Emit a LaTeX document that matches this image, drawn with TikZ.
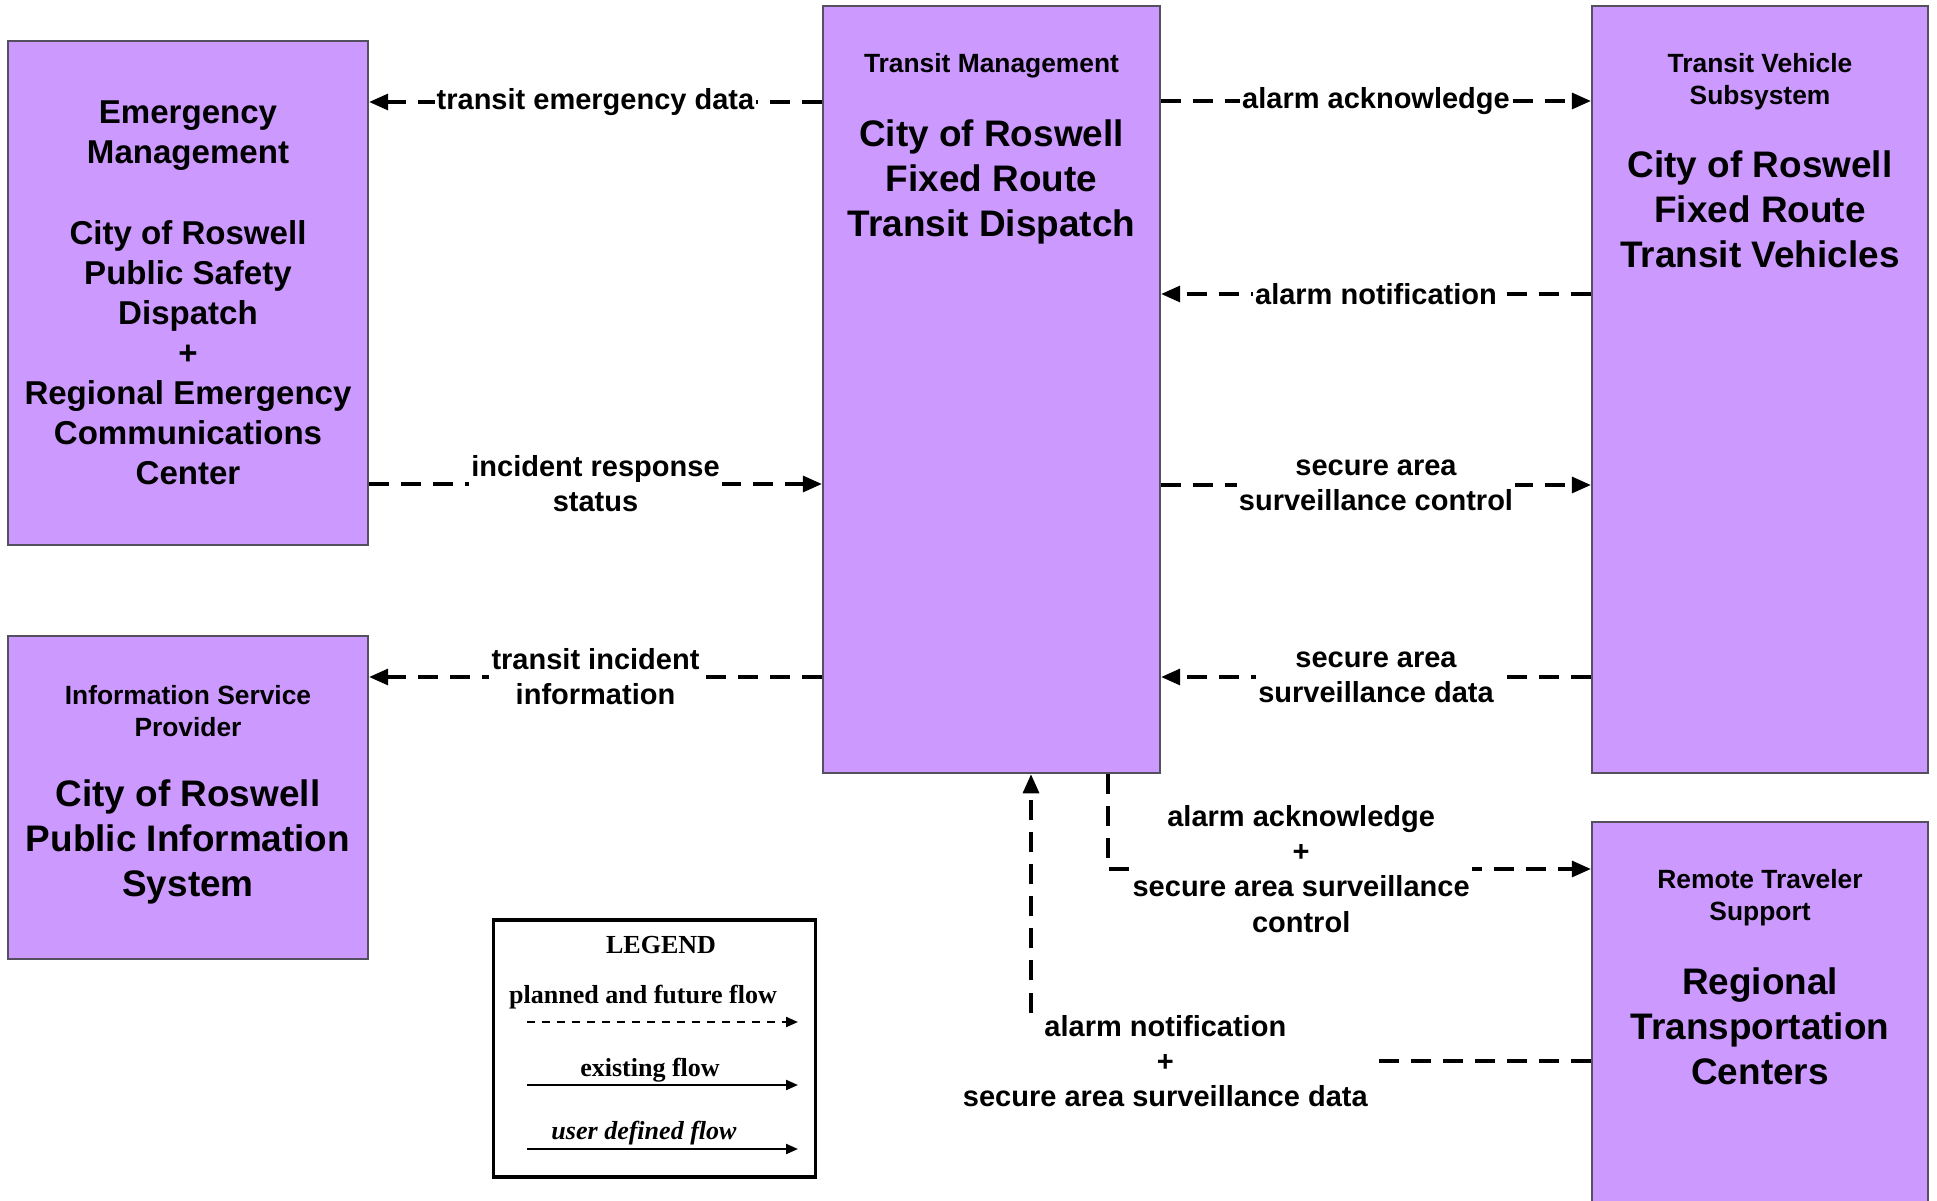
\documentclass[tikz,border=0pt]{standalone}
\usepackage{fontspec}
\setmainfont{Liberation Sans}
\newfontfamily\legendfont{Liberation Serif}
\usepackage{xcolor}
\usetikzlibrary{arrows,arrows.meta,shapes,positioning,calc}

\definecolor{sysfill}{RGB}{204,153,255}
\definecolor{sysline}{RGB}{85,80,95}

\tikzset{
  sysbox/.style={draw=sysline, line width=0.6pt, rectangle, fill=sysfill, inner sep=0pt},
  hdrtext/.style={align=center, inner sep=0pt, font=\fontsize{7.5}{9.1}\selectfont\bfseries},
  nametext/.style={align=center, inner sep=0pt, font=\fontsize{10.5}{12.8}\selectfont\bfseries},
  flowlabel/.style={align=center, fill=white, inner sep=0.6pt, font=\fontsize{8.25}{10}\selectfont\bfseries},
  flow/.style={->, line width=0.9pt, dash pattern=on 0.2cm off 0.12cm},
  legendtext/.style={inner sep=0pt, font=\legendfont\fontsize{7.4}{9}\selectfont\bfseries},
  legendflow/.style={-{Triangle[length=0.12cm,width=0.1cm]}, line width=0.6pt},
}

\begin{document}
\begin{tikzpicture}[x=0.01cm, y=-0.01cm, >={Triangle[length=0.19cm,width=0.16cm]}]
\useasboundingbox (0,0) rectangle (1937,1201);

% Subsystem boxes
\node[sysbox, minimum width=3.60cm, minimum height=5.04cm, align=center, font=\fontsize{9.4}{11.4}\selectfont\bfseries] (em) at (188,293) {Emergency\\Management\\[0.4cm]City of Roswell\\Public Safety\\Dispatch\\+\\Regional Emergency\\Communications\\Center};
\node[sysbox, minimum width=3.60cm, minimum height=3.23cm] (isp) at (188,797.5) {};
\node[sysbox, minimum width=3.37cm, minimum height=7.67cm] (tm) at (991.5,389.5) {};
\node[sysbox, minimum width=3.36cm, minimum height=7.67cm] (tvs) at (1760,389.5) {};
\node[sysbox, minimum width=3.36cm, minimum height=3.90cm] (rts) at (1760,1017) {};

% Box titles
\node[hdrtext] (tmhdr) at (991.5,66) {Transit Management};
\node[nametext] (tmname) at (991.5,182) {City of Roswell\\Fixed Route\\Transit Dispatch};
\node[hdrtext] (tvshdr) at (1760,82) {Transit Vehicle\\Subsystem};
\node[nametext] (tvsname) at (1760,209) {City of Roswell\\Fixed Route\\Transit Vehicles};
\node[hdrtext] (isphdr) at (188,711) {Information Service\\Provider};
\node[nametext] (ispname) at (188,842) {City of Roswell\\Public Information\\System};
\node[hdrtext] (rtshdr) at (1760,898) {Remote Traveler\\Support};
\node[nametext] (rtsname) at (1760,1026) {Regional\\Transportation\\Centers};

% Flows
\draw[flow] (tm.west |- 0,102) -- (em.east |- 0,102) node[flowlabel, midway] {transit emergency data};
\draw[flow] (em.east |- 0,484) -- (tm.west |- 0,484) node[flowlabel, midway] {incident response\\status};
\draw[flow] (tm.west |- 0,677) -- (isp.east |- 0,677) node[flowlabel, midway] {transit incident\\information};
\draw[flow] (tm.east |- 0,101) -- (tvs.west |- 0,101) node[flowlabel, midway] {alarm acknowledge};
\draw[flow] (tvs.west |- 0,294) -- (tm.east |- 0,294) node[flowlabel, midway] {alarm notification};
\draw[flow] (tm.east |- 0,485) -- (tvs.west |- 0,485) node[flowlabel, midway] {secure area\\surveillance control};
\draw[flow] (tvs.west |- 0,677) -- (tm.east |- 0,677) node[flowlabel, midway] {secure area\\surveillance data};
\draw[flow] (tm.south -| 1108,0) |- (rts.west |- 0,869) node[flowlabel, pos=0.7] {alarm acknowledge\\+\\secure area surveillance\\control};
\draw[flow] (rts.west |- 0,1061) -| (tm.south -| 1031,0) node[flowlabel, pos=0.38] {alarm notification\\+\\secure area surveillance data};

% Legend
\node[draw, line width=0.9pt, minimum width=3.21cm, minimum height=2.57cm] (legend) at (654.5,1048.5) {};
\node[legendtext] (lgtitle) at (661,945) {LEGEND};
\node[legendtext] (lgplanned) at (643,997) {planned and future flow};
\coordinate (lgp1) at (527,1022);
\coordinate (lgp2) at (798,1022);
\draw[legendflow, dash pattern=on 0.08cm off 0.07cm] (lgp1) -- (lgp2);
\node[legendtext] (lgexist) at (650,1070) {existing flow};
\coordinate (lge1) at (527,1085);
\coordinate (lge2) at (798,1085);
\draw[legendflow] (lge1) -- (lge2);
\node[legendtext, font=\legendfont\fontsize{7.4}{9}\selectfont\bfseries\itshape] (lguser) at (644,1133) {user defined flow};
\coordinate (lgu1) at (527,1149);
\coordinate (lgu2) at (798,1149);
\draw[legendflow] (lgu1) -- (lgu2);

\end{tikzpicture}
\end{document}
